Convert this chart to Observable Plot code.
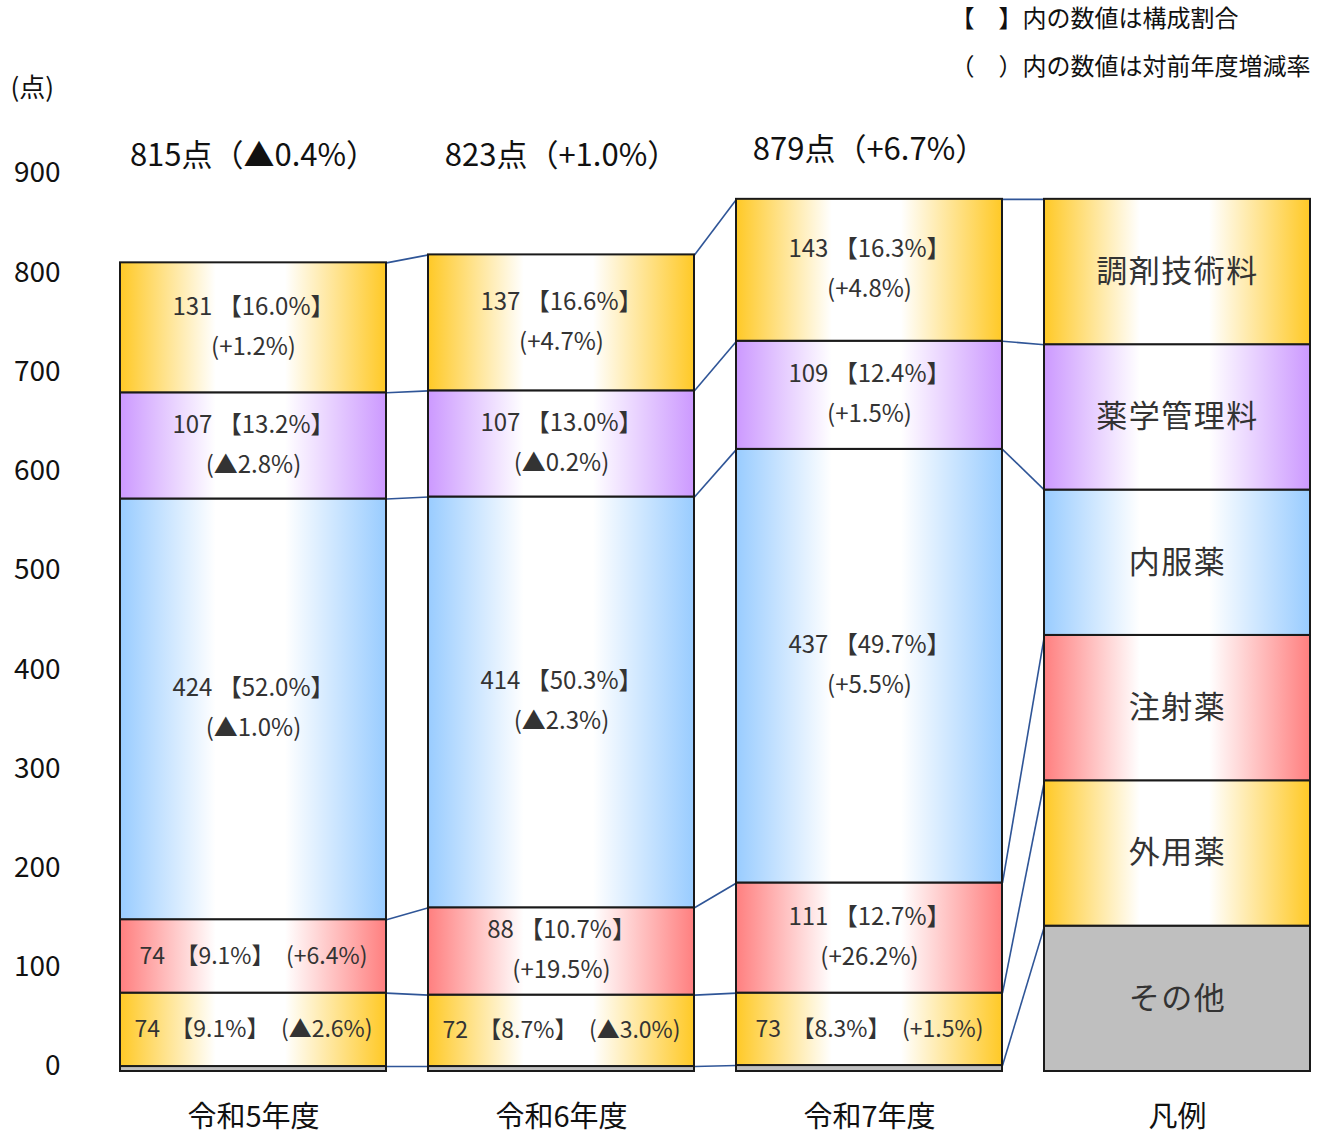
<!DOCTYPE html>
<html><head><meta charset="utf-8">
<script src="https://cdn.jsdelivr.net/npm/d3@7"></script>
<script src="https://cdn.jsdelivr.net/npm/@observablehq/plot@0.6"></script>
<style>
body{margin:0;background:#fff;}
svg{font-family:"Noto Sans CJK JP","Noto Sans",sans-serif;}
.legtxt text{letter-spacing:1.5px;}
</style></head>
<body><div id="chart"></div>
<script>
// ---- data ----
const years = ["令和5年度", "令和6年度", "令和7年度"];
const legendLabel = "凡例";
const categories = ["その他", "外用薬", "注射薬", "内服薬", "薬学管理料", "調剤技術料"]; // bottom -> top
const valOther   = [5, 5, 6];
const valGaiyo   = [74, 72, 73];
const valChusha  = [74, 88, 111];
const valNaifuku = [424, 414, 437];
const valYakugaku= [107, 107, 109];
const valChozai  = [131, 137, 143];
const shareGaiyo   = ["9.1%", "8.7%", "8.3%"];
const shareChusha  = ["9.1%", "10.7%", "12.7%"];
const shareNaifuku = ["52.0%", "50.3%", "49.7%"];
const shareYakugaku= ["13.2%", "13.0%", "12.4%"];
const shareChozai  = ["16.0%", "16.6%", "16.3%"];
const chgGaiyo   = ["▲2.6%", "▲3.0%", "+1.5%"];
const chgChusha  = ["+6.4%", "+19.5%", "+26.2%"];
const chgNaifuku = ["▲1.0%", "▲2.3%", "+5.5%"];
const chgYakugaku= ["▲2.8%", "▲0.2%", "+1.5%"];
const chgChozai  = ["+1.2%", "+4.7%", "+4.8%"];
const totals = [815, 823, 879];
const totalChg = ["▲0.4%", "+1.0%", "+6.7%"];
const yTicks = [0, 100, 200, 300, 400, 500, 600, 700, 800, 900];
const noteShare = "【　】内の数値は構成割合";
const noteChange = "（　）内の数値は対前年度増減率";
const yUnit = "(点)";

// ---- build table ----
const values = [valOther, valGaiyo, valChusha, valNaifuku, valYakugaku, valChozai];
const shares = [null, shareGaiyo, shareChusha, shareNaifuku, shareYakugaku, shareChozai];
const changes = [null, chgGaiyo, chgChusha, chgNaifuku, chgYakugaku, chgChozai];
const colors = ["#BFBFBF", "#FFC926", "#FF7F7F", "#99CCFF", "#CC99FF", "#FFC926"];
const barW = 266 / 308;

const segs = [];
years.forEach((yr, i) => {
  let acc = 0;
  categories.forEach((c, k) => {
    const v = values[k][i];
    segs.push({i, k, cat: c, y1: acc, y2: acc + v, v,
      share: shares[k] ? shares[k][i] : null, chg: changes[k] ? changes[k][i] : null});
    acc += v;
  });
});
const legUnit = totals[2] / categories.length;
const legSegs = categories.map((c, k) => ({i: 3, k, cat: c, y1: k * legUnit, y2: (k + 1) * legUnit}));
const allSegs = segs.concat(legSegs);

// connectors: top of each category from column i to column i+1
const links = [];
for (let i = 0; i < 3; i++) {
  categories.forEach((c, k) => {
    const a = allSegs.find(d => d.i === i && d.k === k);
    const b = allSegs.find(d => d.i === i + 1 && d.k === k);
    links.push({x1: i + barW, y1: a.y2, x2: i + 1, y2: b.y2});
  });
}

const labels = segs.filter(d => d.share).map(d => ({
  x: d.i + barW / 2, y: (d.y1 + d.y2) / 2, single: d.v < 80,
  text: d.v < 80 ? `${d.v}\u00a0\u00a0【${d.share}】\u3000(${d.chg})` : `${d.v} 【${d.share}】\n(${d.chg})`
}));

const rectMarks = categories.map((c, k) =>
  Plot.rect(allSegs.filter(d => d.k === k), {
    x1: d => d.i, x2: d => d.i + barW, y1: "y1", y2: "y2",
    fill: k === 0 ? colors[0] : `url(#grad${k})`, stroke: "#1a1a1a", strokeWidth: 2
  })
);

const chart = Plot.plot({
  width: 1318, height: 1135,
  marginLeft: 120, marginRight: 8, marginTop: 178, marginBottom: 64,
  x: {domain: [0, 3 + barW], axis: null},
  y: {domain: [0, 900], axis: null},
  style: {fontFamily: '"Noto Sans CJK JP", sans-serif', background: "#fff", overflow: "visible"},
  marks: [
    Plot.link(links, {x1: "x1", y1: "y1", x2: "x2", y2: "y2", stroke: "#2F5597", strokeWidth: 1.6}),
    ...rectMarks,
    Plot.axisY({ticks: yTicks, tickSize: 0, tickPadding: 60, fontSize: 28, dy: -5, fill: "#111", tickFormat: d => String(d)}),
    Plot.text(labels.filter(d => !d.single), {x: "x", y: "y", text: "text", fontSize: 24, fill: "#333", lineHeight: 1.67, dy: -6}),
    Plot.text(labels.filter(d => d.single), {x: "x", y: "y", text: "text", fontSize: 23, fill: "#333", dy: 0}),
    Plot.text(legSegs, {x: d => d.i + barW / 2, y: d => (d.y1 + d.y2) / 2, text: "cat", fontSize: 31, fill: "#333", className: "legtxt"}),
    Plot.text(years.slice(0, 2), {x: (d, i) => i + barW / 2, frameAnchor: "top", dy: -35,
      text: (d, i) => `${totals[i]}点（${totalChg[i]}）`, fontSize: 31, fill: "#111"}),
    Plot.text([years[2]], {x: () => 2 + barW / 2, frameAnchor: "top", dy: -41,
      text: () => `${totals[2]}点（${totalChg[2]}）`, fontSize: 31, fill: "#111"}),
    Plot.text(years.concat([legendLabel]), {x: (d, i) => i + barW / 2, frameAnchor: "bottom", dy: 55,
      text: d => d, fontSize: 29, fill: "#111"}),
    Plot.text([yUnit], {frameAnchor: "top-left", dx: -110, dy: -100, textAnchor: "start", text: d => d, fontSize: 26, fill: "#111"}),
    Plot.text([noteShare], {frameAnchor: "top-right", dx: -360, dy: -169, textAnchor: "start", text: d => d, fontSize: 24, fill: "#111"}),
    Plot.text([noteChange], {frameAnchor: "top-right", dx: -360, dy: -121, textAnchor: "start", text: d => d, fontSize: 24, fill: "#111"})
  ]
});

// gradients
const svg = d3.select(chart);
const defs = svg.insert("defs", ":first-child");
colors.forEach((col, k) => {
  if (k === 0) return;
  const g = defs.append("linearGradient").attr("id", `grad${k}`)
    .attr("x1", "0").attr("x2", "1").attr("y1", "0").attr("y2", "0");
  [[0, col], [0.36, "#fff"], [0.62, "#fff"], [1, col]].forEach(([o, c]) =>
    g.append("stop").attr("offset", o).attr("stop-color", c));
});
document.getElementById("chart").appendChild(chart);
</script></body></html>
